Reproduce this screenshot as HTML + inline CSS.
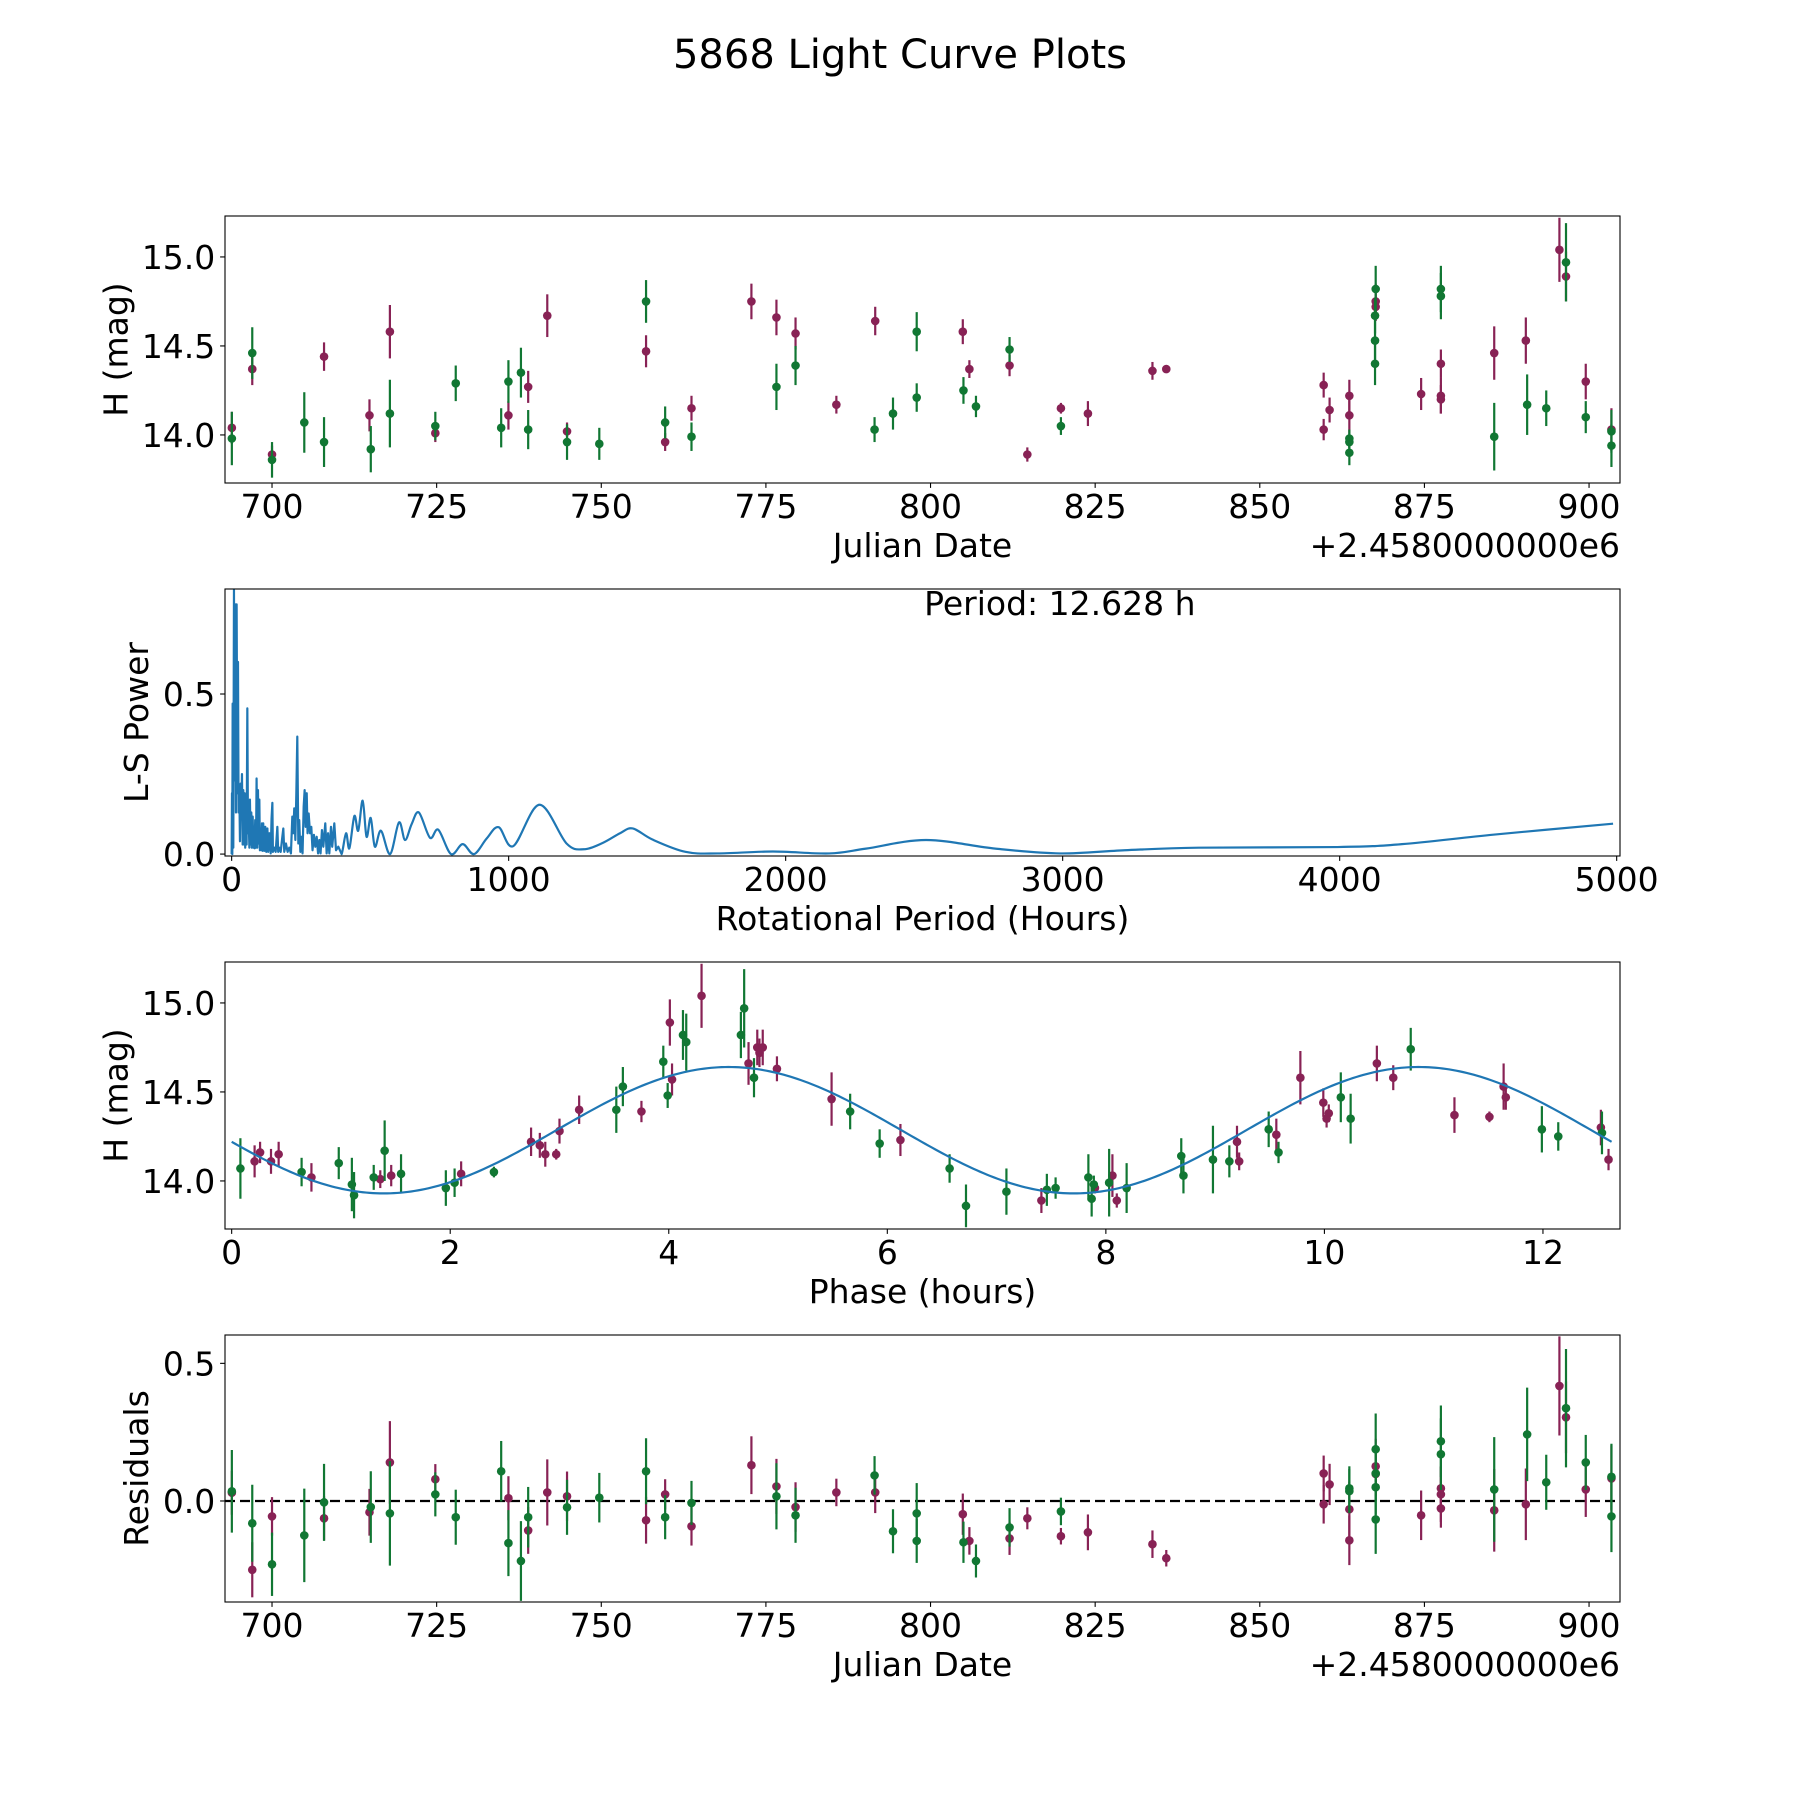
<!DOCTYPE html>
<html><head><meta charset="utf-8"><title>5868 Light Curve Plots</title>
<style>html,body{margin:0;padding:0;background:#fff}svg{display:block}text{font-family:"DejaVu Sans","Liberation Sans",sans-serif;fill:#000}</style>
</head><body>
<svg id="fig" width="1800" height="1800" viewBox="0 0 1800 1800" xmlns="http://www.w3.org/2000/svg">
<rect width="1800" height="1800" fill="#fff"/>
<text x="900" y="68" font-size="40" text-anchor="middle">5868 Light Curve Plots</text>
</svg>
<script>
// ---- Panel 1: light curve (Julian Date offset 2458000) ----
const lcDatesM=[693.9,697,700,707.9,714.8,717.9,724.8,735.9,738.9,741.8,744.8,756.8,759.7,763.7,772.8,776.6,779.5,785.7,791.6,804.9,805.9,812,814.7,819.8,823.9,833.7,835.8,859.7,859.7,860.6,863.6,863.6,867.6,867.6,874.5,877.5,877.5,877.5,885.6,890.4,895.5,896.5,899.5,903.4];
const lcMagM=[14.04,14.37,13.89,14.44,14.11,14.58,14.01,14.11,14.27,14.67,14.02,14.47,13.96,14.15,14.75,14.66,14.57,14.17,14.64,14.58,14.37,14.39,13.89,14.15,14.12,14.36,14.37,14.28,14.03,14.14,14.22,14.11,14.75,14.72,14.23,14.40,14.22,14.20,14.46,14.53,15.04,14.89,14.30,14.03];
const lcErrM=[.09,.09,.05,.08,.09,.15,.05,.08,.09,.12,.05,.09,.05,.07,.1,.1,.09,.05,.08,.07,.05,.06,.04,.03,.07,.05,.02,.07,.06,.07,.09,.1,.1,.08,.09,.08,.1,.08,.15,.13,.18,.14,.1,.12];
const lcDatesG=[693.9,697,700,704.9,707.9,715,717.9,724.8,727.9,734.8,735.9,737.8,738.9,744.8,749.7,756.8,759.7,763.7,776.6,779.5,791.5,794.3,797.9,797.9,805.0,806.9,812,819.8,863.6,863.6,863.6,867.6,867.5,867.5,867.5,877.5,877.5,885.6,890.6,893.5,896.5,899.5,903.4,903.4];
const lcMagG=[13.98,14.46,13.86,14.07,13.96,13.92,14.12,14.05,14.29,14.04,14.30,14.35,14.03,13.96,13.95,14.75,14.07,13.99,14.27,14.39,14.03,14.12,14.58,14.21,14.25,14.16,14.48,14.05,13.98,13.96,13.90,14.82,14.67,14.53,14.40,14.82,14.78,13.99,14.17,14.15,14.97,14.10,14.02,13.94];
const lcErrG=[.15,.145,.1,.17,.14,.13,.19,.08,.1,.11,.12,.14,.11,.1,.09,.12,.09,.08,.13,.11,.07,.09,.11,.08,.075,.06,.07,.05,.05,.05,.07,.13,.1,.12,.12,.13,.13,.19,.17,.1,.22,.09,.12,.12];
const dateTicks=[700,725,750,775,800,825,850,875,900];
const magTicks=[14.0,14.5,15.0];
// ---- Panel 2: periodogram ----
const lsPeriod=[0,1.2,2.4,3.6,6,8.4,10.8,13.2,15.6,18,20.5,22.9,25,27.7,30,32.5,35,37.3,39.7,42,44.5,47,49,51.7,54,56.6,59,61,64,66,68.6,71,73,76,78,80.6,83,85,88,90,92.7,95,97.5,100,102,105,107,109.5,112,114,118,121.5,125,129,132,136,141,144,147,149,154,159,165,168,172,177,183,186.5,190,196,202,208,214,219,222.6,226,230,233.5,237,240.7,244,248,253,256,260,263.5,267,271,274,278,283,287.6,292,297,302,307,312,316.5,321,326,331,338,343,348,352.6,358.6,363,370.6,376.7,385,397,413,425,443,457,473,487,502,517,539,572,604,626,650,676,716,746,792,834,875,921,964,1017,1111,1209,1271,1340,1402,1448,1520,1638,1755,1954,2157,2290,2507,2757,2990,3224,3491,3992,4225,4559,4987];
const lsPower=[0,.19,0,.47,.02,.825,.23,.78,.13,.78,.19,.6,.13,.2,.04,.22,.13,.25,.03,.2,.03,.19,.02,.18,.03,.455,.065,.13,.02,.17,.03,.13,.02,.117,.02,.085,.018,.106,.02,.236,.02,.2,.033,.17,.012,.065,.012,.096,.01,.096,.01,.085,.007,.08,.007,.065,.002,.11,.16,.007,.02,.007,.085,.007,.02,.007,.054,.08,.007,.033,.007,.02,.002,.117,.065,.143,.044,.19,.367,.033,.106,.007,.054,.002,.148,.2,.085,.19,.065,.127,.065,.085,.012,.06,.023,.054,.002,.044,.002,.075,.023,.096,.002,.065,.002,.085,.023,.096,.012,.023,0,.065,.018,.119,.073,.167,.054,.113,.023,.073,0,.099,.044,.094,.13,.051,.076,0,.031,0,.049,.084,.025,.154,.033,.015,.035,.065,.08,.045,.007,.002,.008,.002,.017,.044,.017,.002,.012,.02,.022,.031,.061,.095];
const periodTicks=[0,1000,2000,3000,4000,5000];
const powerTicks=[0.0,0.5];
const bestPeriodLabel=["Period: 12.628 h"];
// ---- Panel 3: phased light curve ----
const phM=[0.21,0.26,0.36,0.43,0.73,1.36,1.46,2.10,2.74,2.82,2.87,2.97,3.00,3.18,3.75,4.01,4.03,4.30,4.73,4.81,4.83,4.86,4.99,5.49,6.12,7.41,7.90,8.06,8.10,9.20,9.22,9.56,9.78,9.99,10.02,10.04,10.48,10.63,11.19,11.51,11.64,11.66,12.53,12.60];
const phMagM=[14.11,14.16,14.11,14.15,14.02,14.01,14.03,14.04,14.22,14.20,14.15,14.15,14.28,14.40,14.39,14.89,14.57,15.04,14.66,14.75,14.72,14.75,14.63,14.46,14.23,13.89,13.96,14.03,13.89,14.22,14.11,14.26,14.58,14.44,14.35,14.38,14.66,14.58,14.37,14.36,14.53,14.47,14.30,14.12];
const phErrM=[.09,.06,.07,.07,.08,.05,.06,.07,.08,.07,.07,.03,.07,.08,.06,.13,.09,.18,.12,.1,.08,.1,.07,.15,.09,.07,.03,.12,.04,.09,.05,.09,.15,.08,.05,.05,.1,.07,.1,.03,.13,.07,.1,.06];
const phG=[0.08,0.64,0.98,1.10,1.12,1.30,1.40,1.55,1.96,2.04,2.40,3.52,3.58,3.95,3.99,4.13,4.16,4.66,4.69,4.78,5.66,5.93,6.57,6.72,7.09,7.46,7.54,7.84,7.87,7.89,8.03,8.19,8.69,8.71,8.98,9.13,9.49,9.58,10.15,10.24,10.79,11.99,12.14,12.54];
const phMagG=[14.07,14.05,14.10,13.98,13.92,14.02,14.17,14.04,13.96,13.99,14.05,14.40,14.53,14.67,14.48,14.82,14.78,14.82,14.97,14.58,14.39,14.21,14.07,13.86,13.94,13.95,13.96,14.02,13.90,13.98,13.99,13.96,14.14,14.03,14.12,14.11,14.29,14.16,14.47,14.35,14.74,14.29,14.25,14.27];
const phErrG=[.17,.08,.09,.15,.13,.07,.17,.11,.1,.08,.03,.13,.11,.09,.07,.14,.16,.13,.22,.11,.1,.08,.08,.12,.13,.09,.06,.13,.1,.05,.19,.14,.1,.1,.19,.09,.1,.06,.14,.14,.12,.13,.08,.12];
const phaseTicks=[0,2,4,6,8,10,12];
const modelParams=[14.285,0.355,4.55,6.314,12.628]; // mean, amplitude, peak phase, harmonic period, rotation period
// ---- Panel 4: residuals ----
const resDatesM=lcDatesM;
const resM=[.03,-.25,-.056,-.063,-.041,.14,.079,.01,-.107,.031,.017,-.07,.024,-.092,.13,.053,-.022,.031,.031,-.048,-.145,-.136,-.063,-.128,-.114,-.157,-.208,.10,-.012,.06,-.03,-.143,.126,.098,-.052,.046,.024,-.027,-.034,-.012,.418,.304,.042,.082];
const resErrM=[.08,.1,.07,.08,.085,.15,.055,.08,.085,.12,.09,.085,.055,.07,.105,.1,.09,.05,.075,.075,.05,.06,.04,.03,.065,.05,.03,.065,.07,.075,.1,.09,.1,.08,.09,.08,.1,.07,.15,.13,.18,.13,.1,.12];
const resDatesG=[693.9,697,700,704.9,707.9,715,717.9,724.8,727.9,734.8,735.9,737.8,738.9,744.8,749.7,756.8,759.7,763.7,776.6,779.5,791.5,794.3,797.9,797.9,805,806.9,812,819.8,863.6,863.6,867.6,867.6,867.6,867.6,877.5,877.5,885.6,890.6,893.5,896.5,899.5,903.4,903.4];
const resG=[.035,-.081,-.23,-.125,-.005,-.022,-.045,.024,-.059,.108,-.153,-.218,-.059,-.023,.012,.108,-.059,-.007,.017,-.052,.093,-.11,-.045,-.145,-.15,-.218,-.096,-.038,.046,.036,.188,.10,.05,-.067,.217,.17,.042,.242,.068,.337,.14,.088,-.056];
const resErrG=[.15,.14,.115,.17,.14,.13,.19,.08,.1,.11,.12,.145,.11,.1,.09,.12,.08,.08,.12,.1,.07,.08,.11,.08,.075,.06,.07,.05,.08,.08,.13,.1,.1,.125,.13,.13,.19,.17,.1,.215,.1,.12,.13];
const resTicks=[0.0,0.5];

const NS="http://www.w3.org/2000/svg";
const svg=document.getElementById('fig');
const CM="#882255",CG="#117733",CB="#1f77b4";
const FS=33;
function mk(tag,attrs,parent){const e=document.createElementNS(NS,tag);for(const k in attrs)e.setAttribute(k,attrs[k]);(parent||svg).appendChild(e);return e;}
function lin(d0,d1,r0,r1){return v=>r0+(v-d0)/(d1-d0)*(r1-r0);}
const L=225,W=1395,H=267;
function makeAxes(i,name,xd,yd){
  const top=216+i*373;
  const g=mk('g',{});
  
  
  const cid='clip'+i;
  const cp=mk('clipPath',{id:cid},g);mk('rect',{x:L,y:top,width:W,height:H},cp);
  const plot=mk('g',{'clip-path':'url(#'+cid+')'},g);
  
  
  return {g,plot,top,x:lin(xd[0],xd[1],L,L+W),y:lin(yd[0],yd[1],top+H,top)};
}
function frame(ax){const r=mk('rect',{x:L,y:ax.top,width:W,height:H,fill:'none',stroke:'#000','stroke-width':1.1},ax.g);}
function xticks(ax,ticks,fmt){
  ticks.forEach(t=>{const X=ax.x(t);const b=ax.top+H;
    const l=mk('line',{x1:X,x2:X,y1:b,y2:b+4.9,stroke:'#000','stroke-width':1.1},ax.g);
    
    const tx=mk('text',{x:X,y:b+35,'font-size':FS,'text-anchor':'middle'},ax.g);tx.textContent=fmt(t);
    });
}
function yticks(ax,ticks,fmt){
  ticks.forEach(t=>{const Y=ax.y(t);
    const l=mk('line',{x1:L-4.9,x2:L,y1:Y,y2:Y,stroke:'#000','stroke-width':1.1},ax.g);
    
    const tx=mk('text',{x:L-9.7,y:Y+12,'font-size':FS,'text-anchor':'end'},ax.g);tx.textContent=fmt(t);
    });
}
function xlabel(ax,s,name){const t=mk('text',{x:L+W/2,y:ax.top+H+74,'font-size':FS,'text-anchor':'middle'},ax.g);t.textContent=s;}
function ylabel(ax,s,bx,name){const cy=ax.top+H/2;const t=mk('text',{x:bx,y:cy,'font-size':FS,'text-anchor':'middle',transform:'rotate(-90 '+bx+' '+cy+')'},ax.g);t.textContent=s;}
function offsetText(ax){const t=mk('text',{x:L+W,y:ax.top+H+74,'font-size':FS,'text-anchor':'end'},ax.g);t.textContent='+2.4580000000e6';}
function errpts(ax,xs,ys,es,col,name){
  const g=mk('g',{},ax.plot);
  
  
  xs.forEach((v,k)=>{const X=ax.x(v);
    const l=mk('line',{x1:X,x2:X,y1:ax.y(ys[k]-es[k]),y2:ax.y(ys[k]+es[k]),stroke:col,'stroke-width':2.2},g);
    
    const c=mk('circle',{cx:X,cy:ax.y(ys[k]),r:4.3,fill:col},g);
    });
}
const f1=t=>t.toFixed(1), f0=t=>String(t);

// Panel 1
const a1=makeAxes(0,'light-curve-axes',[692.86,904.7],[13.73,15.23]);
errpts(a1,lcDatesM,lcMagM,lcErrM,CM,'series-filter-1');
errpts(a1,lcDatesG,lcMagG,lcErrG,CG,'series-filter-2');
frame(a1);xticks(a1,dateTicks,f0);yticks(a1,magTicks,f1);xlabel(a1,'Julian Date','x-axis-title');offsetText(a1);ylabel(a1,'H (mag)',127.5,'y-axis-title');

// Panel 2
const a2=makeAxes(1,'periodogram-axes',[-24,5012],[-0.006,0.828]);
const P=lsPeriod.map((p,k)=>[a2.x(p),a2.y(lsPower[k])]);
let pd='M'+P[0][0].toFixed(2)+' '+P[0][1].toFixed(2);
for(let k=1;k<P.length;k++){
  if(lsPeriod[k-1]<397){pd+=' L'+P[k][0].toFixed(2)+' '+P[k][1].toFixed(2);continue;}
  const p0=P[k-2]||P[k-1],p1=P[k-1],p2=P[k],p3=P[k+1]||P[k];
  const c1=[p1[0]+(p2[0]-p0[0])/6,p1[1]+(p2[1]-p0[1])/6],c2=[p2[0]-(p3[0]-p1[0])/6,p2[1]-(p3[1]-p1[1])/6];
  pd+=' C'+c1[0].toFixed(2)+' '+c1[1].toFixed(2)+' '+c2[0].toFixed(2)+' '+c2[1].toFixed(2)+' '+p2[0].toFixed(2)+' '+p2[1].toFixed(2);
}
const pl=mk('path',{d:pd,fill:'none',stroke:CB,'stroke-width':2.2,'stroke-linejoin':'round'},a2.plot);


frame(a2);xticks(a2,periodTicks,f0);yticks(a2,powerTicks,f1);xlabel(a2,'Rotational Period (Hours)','x-axis-title');ylabel(a2,'L-S Power',148,'y-axis-title');
const pt=mk('text',{x:a2.x(2500),y:615,'font-size':FS},a2.g);pt.textContent=bestPeriodLabel[0];


// Panel 3
const a3=makeAxes(2,'phase-axes',[-0.061,12.705],[13.73,15.23]);
let md='';for(let k=0;k<=400;k++){const p=modelParams[4]*k/400;const m=modelParams[0]+modelParams[1]*Math.cos(2*Math.PI*(p-modelParams[2])/modelParams[3]);md+=(k?'L':'M')+a3.x(p).toFixed(2)+' '+a3.y(m).toFixed(2)+' ';}
errpts(a3,phM,phMagM,phErrM,CM,'phased-filter-1');
errpts(a3,phG,phMagG,phErrG,CG,'phased-filter-2');
const ml=mk('path',{d:md,fill:'none',stroke:CB,'stroke-width':2.2},a3.plot);


frame(a3);xticks(a3,phaseTicks,f0);yticks(a3,magTicks,f1);xlabel(a3,'Phase (hours)','x-axis-title');ylabel(a3,'H (mag)',127.5,'y-axis-title');

// Panel 4
const a4=makeAxes(3,'residuals-axes',[692.86,904.7],[-0.367,0.603]);
const zl=mk('line',{x1:L,x2:L+W,y1:a4.y(0),y2:a4.y(0),stroke:'#000','stroke-width':2.2,'stroke-dasharray':'10,5'},a4.plot);


errpts(a4,resDatesM,resM,resErrM,CM,'residuals-filter-1');
errpts(a4,resDatesG,resG,resErrG,CG,'residuals-filter-2');
frame(a4);xticks(a4,dateTicks,f0);yticks(a4,resTicks,f1);xlabel(a4,'Julian Date','x-axis-title');offsetText(a4);ylabel(a4,'Residuals',148,'y-axis-title');
</script>
</body></html>
